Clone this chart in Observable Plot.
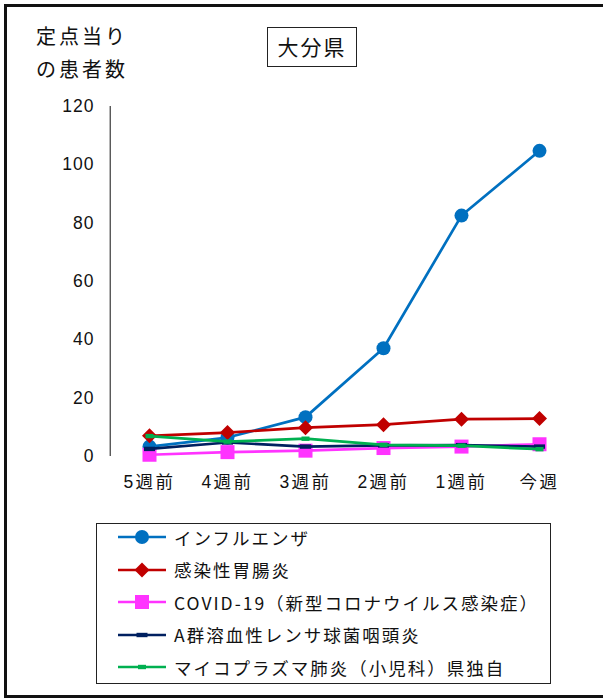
<!DOCTYPE html>
<html><head><meta charset="utf-8">
<script src="https://cdn.jsdelivr.net/npm/d3@7"></script>
<script src="https://cdn.jsdelivr.net/npm/@observablehq/plot@0.6"></script>
<style>
html,body{margin:0;padding:0;overflow:hidden;background:#fff;width:603px;height:698px;}
#page{position:relative;width:603px;height:698px;font-family:"Liberation Sans","Noto Sans CJK JP",sans-serif;color:#111;}
#frame{position:absolute;left:4px;top:4px;width:610px;height:694px;border:3px solid #111;box-sizing:border-box;}
#chart{position:absolute;left:0;top:0;}
#chart g[aria-label="x-axis tick label"] text{letter-spacing:2.5px;font-size:17.5px;}
#chart g[aria-label="y-axis tick label"] text{letter-spacing:1px;font-size:17.5px;}
#ylab{position:absolute;left:36px;top:19px;font-size:20px;line-height:33px;letter-spacing:3px;font-family:"Noto Sans CJK JP",sans-serif;}
#title{position:absolute;left:267px;top:27px;width:90px;height:40px;box-sizing:border-box;border:1.3px solid #222;font-size:21px;line-height:37px;text-align:center;letter-spacing:2px;font-family:"Noto Sans CJK JP",sans-serif;}
#legend{position:absolute;left:96px;top:523px;width:455px;height:161px;box-sizing:border-box;border:1.5px solid #222;}
#rows{margin-top:-3px;}
.row{display:flex;align-items:center;height:32.5px;}
.row svg{margin-left:20px;margin-right:7px;}
.row span{font-size:17.5px;letter-spacing:2px;font-family:"Noto Sans CJK JP",sans-serif;}
</style></head>
<body>
<div id="page">
  <div id="chart"></div>
  <div id="ylab">定点当り<br>の患者数</div>
  <div id="title">大分県</div>
  <div id="legend"><div id="rows"></div></div>
  <div id="frame"></div>
</div>
<script>
const weeks = ["5週前","4週前","3週前","2週前","1週前","今週"];
const seriesNames = ["インフルエンザ","感染性胃腸炎","COVID-19（新型コロナウイルス感染症）","A群溶血性レンサ球菌咽頭炎","マイコプラズマ肺炎（小児科）県独自"];
const influenza = [3.4, 6.5, 13.5, 37.1, 82.6, 104.8];
const gastro    = [7.1, 8.2, 9.9, 10.9, 12.8, 13.0];
const covid     = [0.6, 1.5, 2.0, 2.9, 3.4, 4.2];
const strep     = [2.6, 4.8, 3.4, 3.8, 3.9, 3.4];
const myco      = [7.0, 5.1, 6.1, 4.0, 3.7, 2.5];
const colors = ["#0070C0","#C00000","#FF33FF","#002060","#00B050"];
const yTicks = [0,20,40,60,80,100,120];

const symbols = [
  {draw(c){c.moveTo(7,0);c.arc(0,0,7,0,2*Math.PI);c.closePath();}},
  {draw(c){c.moveTo(0,-7.5);c.lineTo(7.5,0);c.lineTo(0,7.5);c.lineTo(-7.5,0);c.closePath();}},
  {draw(c){c.rect(-7,-7,14,14);}},
  {draw(c){c.rect(-5.5,-2.2,11,4.4);}},
  {draw(c){c.rect(-4,-2.2,8,4.4);}}
];

const allValues = [influenza, gastro, covid, strep, myco];
const rows = [];
allValues.forEach((vals, si) => vals.forEach((v, i) => rows.push({series: seriesNames[si], si, week: weeks[i], value: v})));

const marks = [
  Plot.ruleY([0], {x1: weeks[0], x2: weeks[weeks.length-1], stroke: "#808080", strokeWidth: 1.5, insetLeft: -39.3, insetRight: -39.3}),
  Plot.ruleX([weeks[0]], {y1: 0, y2: 120, stroke: "#111", strokeWidth: 1, dx: -39.3}),
  Plot.axisY({ticks: yTicks, tickSize: 0, tickPadding: 14, fontSize: 17.5, label: null}),
  Plot.axisX({tickSize: 0, tickPadding: 19, fontSize: 17.5, label: null})
];
seriesNames.forEach((name, si) => {
  const d = rows.filter(r => r.si === si);
  marks.push(Plot.line(d, {x: "week", y: "value", stroke: colors[si], strokeWidth: 2.7}));
  marks.push(Plot.dot(d, {x: "week", y: "value", fill: colors[si], stroke: "none", symbol: symbols[si], r: 5}));
});

const chart = Plot.plot({
  width: 603, height: 515,
  marginTop: 106, marginBottom: 59, marginLeft: 108, marginRight: 23,
  style: {fontFamily: '"Liberation Sans","Noto Sans CJK JP",sans-serif', color: "#111", background: "transparent", fontSize: "16px"},
  x: {type: "point", domain: weeks, padding: 0.5},
  y: {domain: [0, 120]},
  marks
});
document.getElementById("chart").appendChild(chart);

// legend
const leg = document.getElementById("rows");
seriesNames.forEach((name, si) => {
  const row = document.createElement("div");
  row.className = "row";
  const sw = d3.create("svg").attr("width", 50).attr("height", 20);
  sw.append("line").attr("x1", 1).attr("x2", 49).attr("y1", 10).attr("y2", 10).attr("stroke", colors[si]).attr("stroke-width", 2.5);
  sw.append("path").attr("transform", "translate(25,10)").attr("fill", colors[si]).attr("d", d3.symbol(symbols[si])());
  row.appendChild(sw.node());
  const sp = document.createElement("span");
  sp.textContent = name;
  row.appendChild(sp);
  leg.appendChild(row);
});
</script>
</body></html>
